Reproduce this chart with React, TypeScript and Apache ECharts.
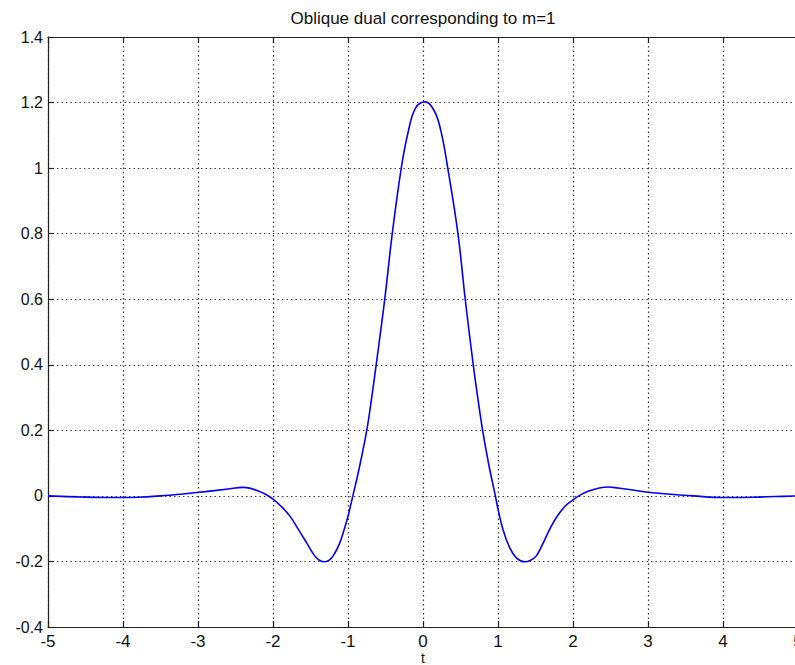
import React, { useEffect, useRef } from "react";
import * as echarts from "echarts";

const titleText = "Oblique dual corresponding to m=1";
const xAxisName = "t";
const xTicks = [-5, -4, -3, -2, -1, 0, 1, 2, 3, 4, 5];
const yTicks = [-0.4, -0.2, 0, 0.2, 0.4, 0.6, 0.8, 1, 1.2, 1.4];

const tValues = [
  -5.0, -4.6, -4.2, -3.8, -3.5, -3.2, -2.9, -2.6, -2.4, -2.3, -2.2, -2.1,
  -2.0, -1.9, -1.777, -1.66, -1.555, -1.444, -1.377, -1.311, -1.244, -1.177,
  -1.111, -1.058, -1.0, -0.935, -0.85, -0.75, -0.69, -0.63, -0.51, -0.41,
  -0.29, -0.2, -0.1, 0.03, 0.15, 0.24, 0.33, 0.466, 0.563, 0.67, 0.73, 0.795,
  0.88, 0.965, 1.0, 1.067, 1.156, 1.244, 1.355, 1.43, 1.511, 1.6, 1.689, 1.78,
  1.9, 2.0, 2.1, 2.2, 2.35, 2.47, 2.6, 2.8, 3.0, 3.3, 3.6, 4.0, 4.4, 4.7, 5.0,
];
const yValues = [
  0.0, -0.003, -0.005, -0.004, 0.0, 0.006, 0.013, 0.021, 0.026, 0.023, 0.015,
  0.005, -0.01, -0.03, -0.061, -0.103, -0.142, -0.183, -0.197, -0.201, -0.195,
  -0.175, -0.144, -0.108, -0.062, 0.0, 0.085, 0.2, 0.29, 0.39, 0.6, 0.8, 1.0,
  1.108, 1.183, 1.202, 1.175, 1.112, 1.0, 0.8, 0.6, 0.4, 0.3, 0.2, 0.092, 0.0,
  -0.04, -0.103, -0.158, -0.189, -0.201, -0.197, -0.183, -0.145, -0.102,
  -0.065, -0.03, -0.012, 0.003, 0.014, 0.024, 0.027, 0.024, 0.018, 0.011,
  0.005, 0.0, -0.005, -0.004, -0.002, 0.0,
];

export default function App() {
  const ref = useRef<HTMLDivElement>(null);
  useEffect(() => {
    if (!ref.current) return;
    const chart = echarts.init(ref.current, null, { renderer: "svg" });
    const font = "'Liberation Sans', Arial, Helvetica, sans-serif";
    const axisColor = "#222";
    const splitStyle = {
      show: true,
      lineStyle: { color: "#333", width: 1.2, type: [1.4, 3.1] as any },
    };
    chart.setOption({
      animation: false,
      backgroundColor: "#fff",
      graphic: [
        {
          type: "text",
          x: 423,
          y: 18,
          style: {
            text: titleText,
            fontFamily: font,
            fontSize: 17,
            fill: "#111",
            align: "center",
            verticalAlign: "middle",
          },
        },
        {
          type: "text",
          x: 423,
          y: 658,
          style: {
            text: xAxisName,
            fontFamily: font,
            fontSize: 14,
            lineHeight: 14,
            fill: "#111",
            align: "center",
            verticalAlign: "middle",
          },
        },
      ],
      grid: {
        left: 48,
        top: 37,
        width: 750,
        height: 590,
        containLabel: false,
        outerBoundsMode: "none",
      },
      xAxis: [
        {
          type: "value",
          min: xTicks[0],
          max: xTicks[xTicks.length - 1],
          interval: 1,
          position: "bottom",
          axisLine: { show: true, onZero: false, lineStyle: { color: axisColor, width: 1.2 } },
          axisTick: { show: true, inside: true, length: 6, lineStyle: { color: axisColor, width: 1.2 } },
          axisLabel: { fontFamily: font, fontSize: 17, lineHeight: 17, color: "#111", margin: 6 },
          splitLine: splitStyle,
        },
        {
          type: "value",
          min: xTicks[0],
          max: xTicks[xTicks.length - 1],
          interval: 1,
          position: "top",
          axisLine: { show: true, onZero: false, lineStyle: { color: axisColor, width: 1.2 } },
          axisTick: { show: true, inside: true, length: 6, lineStyle: { color: axisColor, width: 1.2 } },
          axisLabel: { show: false },
          splitLine: { show: false },
        },
      ],
      yAxis: [
        {
          type: "value",
          min: yTicks[0],
          max: yTicks[yTicks.length - 1],
          interval: 0.2,
          axisLine: { show: true, onZero: false, lineStyle: { color: axisColor, width: 1.2 } },
          axisTick: { show: true, inside: true, length: 6, lineStyle: { color: axisColor, width: 1.2 } },
          axisLabel: {
            fontFamily: font,
            fontSize: 16,
            color: "#111",
            margin: 5,
            formatter: (v: number) => String(Math.round(v * 10) / 10),
          },
          splitLine: splitStyle,
        },
      ],
      series: [
        {
          type: "line",
          data: tValues.map((t, i) => [t, yValues[i]]),
          showSymbol: false,
          smooth: 0.4,
          lineStyle: { color: "#0000ee", width: 1.6 },
          itemStyle: { color: "#0000ee" },
          z: 5,
        },
      ],
    });
    return () => chart.dispose();
  }, []);
  return (
    <div
      ref={ref}
      style={{ position: "fixed", left: 0, top: 0, width: 795, height: 665 }}
    />
  );
}
